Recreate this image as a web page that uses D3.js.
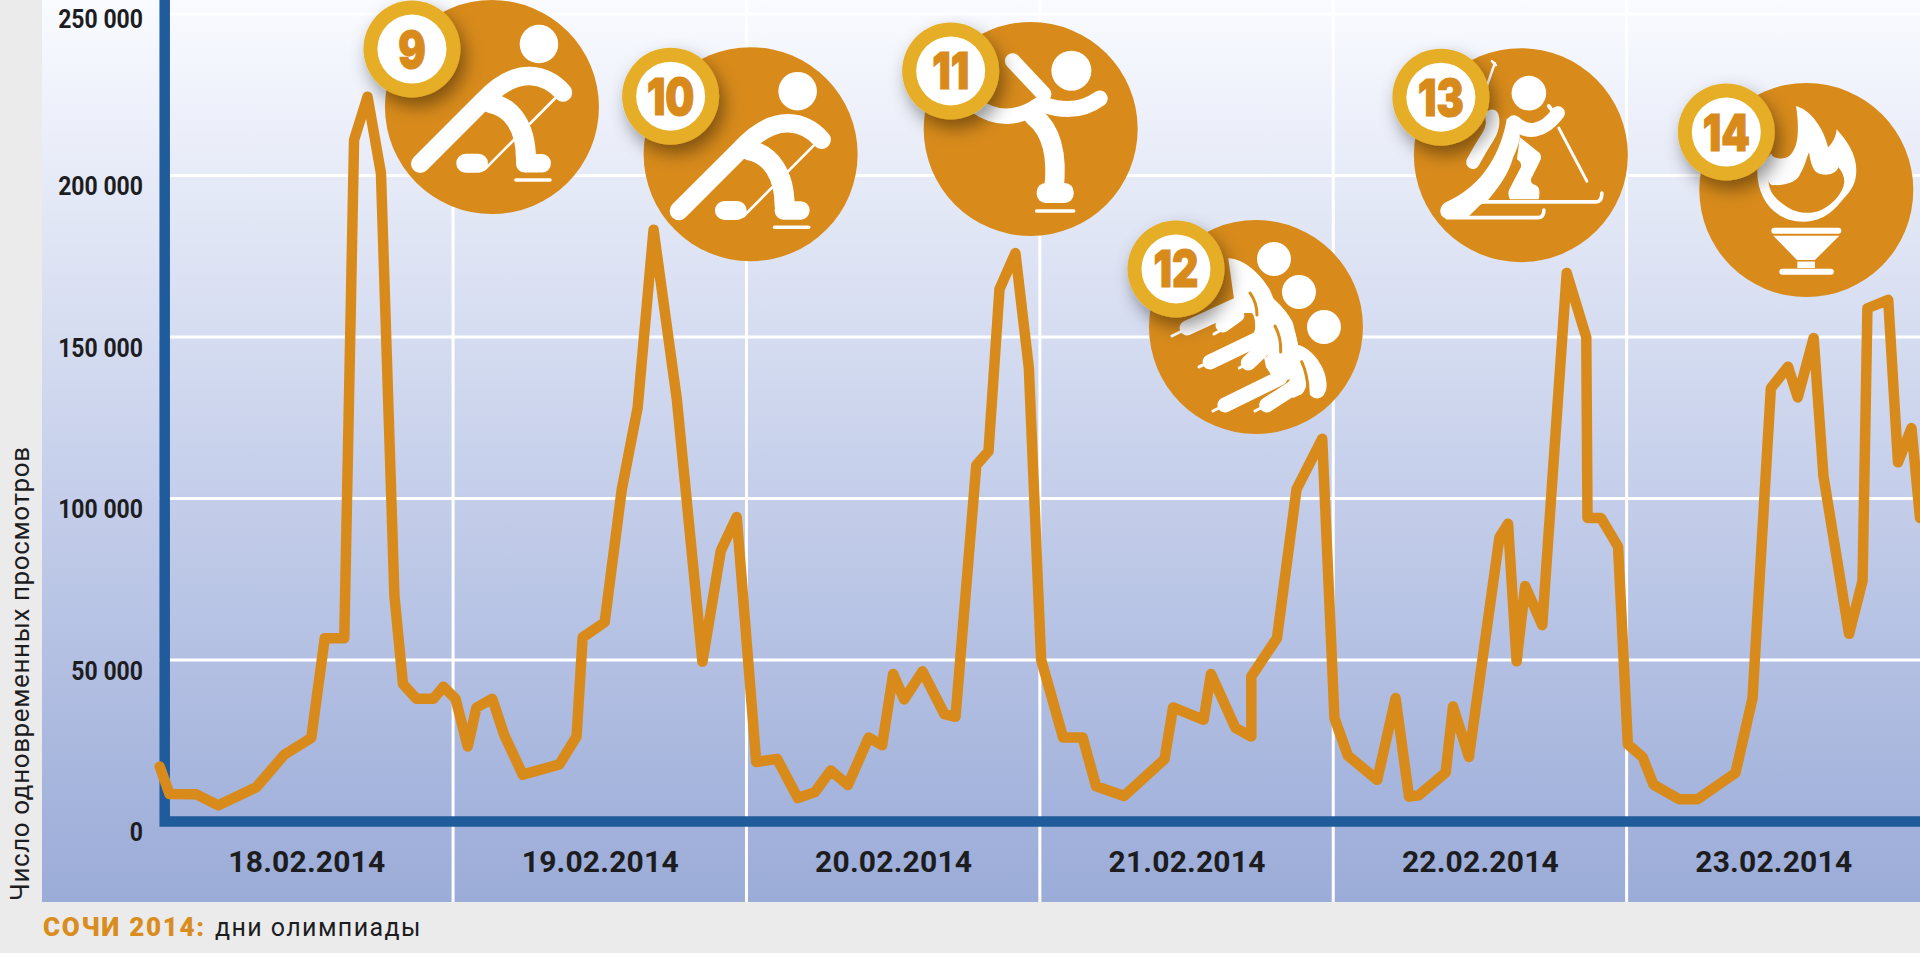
<!DOCTYPE html>
<html lang="ru">
<head>
<meta charset="utf-8">
<title>Сочи 2014: дни олимпиады</title>
<script src="https://cdn.jsdelivr.net/npm/d3@7/dist/d3.min.js"></script>
<style>
  html, body { margin: 0; padding: 0; background: #ebebeb; overflow: hidden; }
  svg { display: block; font-family: Roboto, "Noto Sans", sans-serif; }
</style>
</head>
<body>
<svg id="chart" width="1920" height="953"></svg>
<script>
// Hours since 00:00 on 18.02.2014
const hours = [0,0.8,3,4.8,7.9,10.2,12.4,13.5,15.1,15.9,17,18.1,19.2,19.9,21,22.4,23.2,24.2,25.2,25.9,27.2,28.2,29.7,32.7,34.1,34.6,36.4,37.8,39.1,40.4,42.3,44.4,45.9,47.2,48.8,50.5,52.2,53.6,54.9,56.3,58,59.1,60,60.9,62.4,64.2,65.1,66.8,67.8,68.7,70,71.1,72.1,73.9,75.5,76.6,78.9,82.2,82.9,85.4,86,88,89.3,89.3,91.4,93,95.1,96.1,97.2,99.6,101.1,102.2,103,105.2,105.8,107.1,109.6,110.3,111,111.7,113.1,115.1,116.7,116.8,117.9,119.3,120.1,121.3,122.2,124.3,125.8,128.9,130.3,131.8,133.2,134,135.3,136.1,138.2,139.3,139.7,141.4,142.2,143.3,144];
// Concurrent viewers at each of those hours
const viewers = [17000,8550,8400,5000,10600,20700,25900,56700,56700,211000,224400,200700,69900,42600,38000,38000,41700,38000,23200,35200,38000,26600,14500,17700,26300,57000,61700,102800,128200,183200,130800,49500,83800,94300,18400,19400,7300,9100,15800,11300,26000,23600,45700,37800,46500,33200,32400,110300,114600,164800,176000,140400,50200,26000,26000,10900,7900,19300,35300,31500,45700,29000,26300,44900,56800,102900,118500,32000,20400,12900,38200,7700,8100,15200,35600,20000,88000,92200,49600,72900,60800,169800,149900,94000,94000,85100,23900,20000,11400,6900,6900,15000,38100,134100,140800,131300,149700,107000,58100,74500,158900,161500,111200,121800,94000];

const yTicks = [0, 50000, 100000, 150000, 200000, 250000];
const dayStarts = [0, 24, 48, 72, 96, 120, 144];
const dayLabels = ["18.02.2014","19.02.2014","20.02.2014","21.02.2014","22.02.2014","23.02.2014"];
const yTitle = "Число одновременных просмотров";
const footerLead = "СОЧИ 2014:";
const footerRest = "дни олимпиады";

// Olympic day number and where its medallion sits on the chart's scales
const badgeDays = [9, 10, 11, 12, 13, 14];
const badgeHours = [27.18, 48.34, 71.25, 89.68, 111.35, 134.7];
const badgeLevels = [221200, 206600, 214400, 153100, 206300, 195500];
const badgeIcons = ["hockey", "hockey", "skater", "group", "ski", "flame"];

const svg = d3.select("#chart");
const plot = { left: 159.7, right: 1920, top: 14, zero: 821.5, panelLeft: 42, panelBottom: 902 };

const x = d3.scaleLinear().domain([0, 144]).range([plot.left, plot.right]);
const y = d3.scaleLinear().domain([0, 250000]).range([plot.zero, plot.top]);

const defs = svg.append("defs");
const bg = defs.append("linearGradient").attr("id", "panel").attr("x1", 0).attr("x2", 0).attr("y1", 0).attr("y2", 1);
[[0, "#f9fbff"], [0.18, "#e8ecf8"], [0.5, "#c9d2ec"], [0.82, "#abb9df"], [1, "#9bacd8"]]
  .forEach(([o, c]) => bg.append("stop").attr("offset", o).attr("stop-color", c));
const shadow = defs.append("filter").attr("id", "badgeShadow")
  .attr("x", "-50%").attr("y", "-50%").attr("width", "200%").attr("height", "200%");
shadow.append("feDropShadow").attr("dx", 5).attr("dy", 9).attr("stdDeviation", 9)
  .attr("flood-color", "#000").attr("flood-opacity", 0.42);

// Background panel
svg.append("rect").attr("x", plot.panelLeft).attr("y", 0)
  .attr("width", plot.right - plot.panelLeft).attr("height", plot.panelBottom)
  .attr("fill", "url(#panel)");

// White grid
svg.append("g").selectAll("line").data(yTicks.filter(d => d > 0)).join("line")
  .attr("x1", plot.left).attr("x2", plot.right)
  .attr("y1", d => y(d)).attr("y2", d => y(d))
  .attr("stroke", "#fff").attr("stroke-width", 3);
svg.append("g").selectAll("line").data(dayStarts.slice(1, -1)).join("line")
  .attr("x1", d => x(d)).attr("x2", d => x(d))
  .attr("y1", 0).attr("y2", plot.panelBottom)
  .attr("stroke", "#fff").attr("stroke-width", 3);

// Heavy blue axes
const axisColor = "#205b9b";
svg.append("path")
  .attr("d", d3.line()([[x(0) + 5, 0], [x(0) + 5, y(0)], [plot.right, y(0)]]))
  .attr("fill", "none").attr("stroke", axisColor).attr("stroke-width", 10.5);

// Value axis labels
const groupThousands = d => d === 0 ? "0" : d3.format(",")(d).replace(/,/g, " ");
const yAxis = svg.append("g").attr("transform", `translate(143,0)`)
  .call(d3.axisLeft(y).tickValues(yTicks).tickFormat(groupThousands).tickSize(0).tickPadding(0));
yAxis.select(".domain").remove();
yAxis.selectAll("text")
  .attr("x", 0).attr("dy", null)
  .attr("transform", d => `translate(0,${d === 250000 ? 13 : 19}) scale(0.92,1)`)
  .attr("font-family", "Roboto, sans-serif").attr("font-size", 25).attr("font-weight", 700)
  .attr("fill", "#1d1d1f").attr("text-anchor", "end");

// Day labels, centred on each day
const dayAxis = svg.append("g").attr("transform", `translate(0,${y(0)})`)
  .call(d3.axisBottom(x).tickValues(dayStarts.slice(0, -1).map(d => d + 12))
    .tickFormat((d, i) => dayLabels[i]).tickSize(0));
dayAxis.select(".domain").remove();
dayAxis.selectAll("text")
  .attr("y", 50).attr("dy", null).attr("dx", 0)
  .attr("font-family", "Roboto, sans-serif").attr("font-size", 30).attr("font-weight", 700)
  .attr("letter-spacing", 0.2).attr("fill", "#1d1d1f").attr("text-anchor", "middle");

// Viewers line
const line = d3.line().x(d => x(d[0])).y(d => y(d[1]));
svg.append("path")
  .attr("d", line(d3.zip(hours, viewers)))
  .attr("fill", "none").attr("stroke", "#d88b1b").attr("stroke-width", 10.5)
  .attr("stroke-linejoin", "round").attr("stroke-linecap", "round");

// Titles
svg.append("text")
  .attr("transform", "translate(29,901) rotate(-90)")
  .attr("font-size", 26).attr("letter-spacing", 0.6).attr("fill", "#1d1d1f").text(yTitle);
svg.append("text").attr("x", 43).attr("y", 936)
  .attr("font-size", 26).attr("font-weight", 900).attr("letter-spacing", 1.7)
  .attr("fill", "#d98d1e").text(footerLead);
svg.append("text").attr("x", 215).attr("y", 936)
  .attr("font-size", 25).attr("letter-spacing", 1.4)
  .attr("fill", "#1d1d1f").text(footerRest);

// Sport pictograms, drawn around the medallion centre
const ring = (cx, cy, r) => ({ circle: [cx, cy, r] });
const stroke = (d, w) => ({ stroke: d, w });
const fill = (d, cut) => ({ fill: d, cut });
const notch = (d, w) => ({ notch: d, w });
const rounded = (x0, y0, x1, y1, r) =>
  `M${x0 + r},${y0}H${x1 - r}A${r},${r} 0 0 1 ${x1},${y0 + r}V${y1 - r}A${r},${r} 0 0 1 ${x1 - r},${y1}H${x0 + r}A${r},${r} 0 0 1 ${x0},${y1 - r}V${y0 + r}A${r},${r} 0 0 1 ${x0 + r},${y0}Z`;

const pictograms = {
  hockey: [
    ring(47, -63, 19.3),
    stroke("M62.7,-8.3L-7.3,62.3", 2.6),
    fill(rounded(-35.7, 46.7, -4, 65.7, 9.5)),
    notch("M16,28L-2,47", 5),
    stroke("M-71.7,56.7L-9,-6C8,-24 24,-31.5 38,-31C50,-30.5 62,-25 71,-14.5", 18.5),
    stroke("M-2,-4C20,0 34,20 34,52", 20),
    fill(rounded(24, 47, 59, 65.5, 9)),
    stroke("M24,73H58", 3.6)
  ],
  skater: [
    ring(40.7, -58.3, 20),
    stroke("M-18,-68L13,-35", 15.5),
    stroke("M14,-24C32,-18 52,-18 69,-30.5", 16),
    stroke("M8,-24C-12,-10 -34,-8 -56,-24", 15.5),
    stroke("M3,-13C22,2 27,30 23,62", 19.5),
    fill(rounded(6, 54, 43, 74, 9)),
    stroke("M6,82H43", 3.6)
  ],
  ski: [
    ring(8, -62, 17.3),
    stroke("M-25,-90L-29,-94M-26,-92L-32,-75L-47,-30", 2.5),
    stroke("M-29,-39C-26,-28 -32,-20 -37,-12C-42,-4 -44,0 -48,7", 13.5),
    fill("M-14,-37C-19,-6 -36,30 -75,47C-83,51 -82,63 -74,63L-54,63L-41,50L-33,45C-22,32 -12,18 -8,3C-6,-2 -2,-10 -1,-18L-2,-30Z"),
    fill("M-1,-18L19,-2C21,2 20,4 19,6L10,24C10,28 12,29 15,30C19,32 19,36 18,44L-11,44C-13,40 -13,36 -11,33L0,12C1,8 -1,6 -4,4Z"),
    stroke("M-7,-33C6,-21 22,-22 37,-42", 14),
    stroke("M28,-49L38,-36", 4),
    stroke("M38,-27L66,26", 3),
    stroke("M-43,46.7H75C79,46.7 81,44 81,38", 3.6),
    stroke("M-74,62.5H17C21,62.5 23,60 23,55", 3.6)
  ],
  group: [
    ring(18, -68, 17), ring(43, -35, 17), ring(68, 0, 17),
    fill("M-27.7,-68.7C-12,-68 4,-54 14,-37L17.3,-28.7C26,-20 32,-14 37,-4L42,18C54,20 72,40 70.5,60C70,72 54,72 53.3,61C53,53 52,45 49,40C52,50 52,60 46,67L37,71L28,60C36,52 37,46 34,44L22,58L10,40L8,30C14,32 14,18 8,10L-6,22L-14,24C-2,10 4,-2 -4,-14L-20,-14Z"),
    stroke("M-12,-42C6,-34 12,-12 10,6", 22),
    stroke("M20,-8C30,4 34,24 30,42", 22),
    stroke("M44,30C54,38 61,50 61,63", 17),
    stroke("M-84,9L-70,2", 3), stroke("M-69,1L-19,-22", 15),
    stroke("M-42,7L-33,2", 3), stroke("M-33,-2L-19,-12", 15),
    stroke("M-57,40L-46,35", 3), stroke("M-46,35L4,11", 15),
    stroke("M-16.7,41L-7.7,36", 3), stroke("M-7.7,36L9,20", 15),
    stroke("M-43,84L-31,78", 3), stroke("M-31,78L24,51", 15),
    stroke("M-1,84L10.7,78", 3), stroke("M10.7,78L37,61", 15),
    notch("M-6,-34C-1,-27 1,-20 1,-12", 3),
    notch("M19,-1C24,8 25,18 24.7,25", 3),
    notch("M45.7,34.7C50,44 52,55 52.3,66", 3)
  ],
  flame: [
    fill("M-49,-20C-50,5 -34,32 -2.4,31.7C18,31 28,20 36,10C46,0 50,-8 50,-20C50,-36 40,-50 30.3,-60.7C30,-54 26,-46 21.7,-42.7C18,-60 5,-80 -10.3,-84C-8,-70 -8,-58 -9.3,-50C-11,-40 -16,-32 -23,-31.7C-29,-31 -35,-33 -35,-36.7ZM-38,-11C-38,-7 -35,-4 -32,-5C-20,-4 -8,-9 -5.9,-16.7C-2,-22 0,-32 2.8,-37.7C4,-28 7,-18 12,-16.7C18,-14 30,-15 32,-23C38,-16 39,-9 37,-3.3C34,6 24,16 14.8,20C8,23 2,23 -2.4,22.7C-12,23 -26,14 -33,5C-36,1 -38,-5 -38,-11Z", true),
    stroke("M-32,40.7H32", 6),
    fill("M-33,45.7H33L8.6,70H-9.3Z"),
    fill("M-9,71.5H8.6V78H-9Z"),
    stroke("M-24,81.7H24.5", 6)
  ]
};

const medals = svg.append("g").selectAll("g")
  .data(badgeDays.map((day, i) => ({ day, hour: badgeHours[i], level: badgeLevels[i], icon: badgeIcons[i] })))
  .join("g")
  .attr("transform", d => `translate(${x(d.hour)},${y(d.level)})`);

medals.append("circle").attr("r", 107).attr("fill", "#d88b1b");

medals.each(function (d) {
  const g = d3.select(this);
  pictograms[d.icon].forEach(p => {
    if (p.circle) g.append("circle").attr("cx", p.circle[0]).attr("cy", p.circle[1]).attr("r", p.circle[2]).attr("fill", "#fff");
    if (p.stroke) g.append("path").attr("d", p.stroke).attr("fill", "none").attr("stroke", "#fff")
      .attr("stroke-width", p.w).attr("stroke-linecap", "round").attr("stroke-linejoin", "round");
    if (p.fill) g.append("path").attr("d", p.fill).attr("fill", "#fff").attr("fill-rule", p.cut ? "evenodd" : "nonzero");
    if (p.notch) g.append("path").attr("d", p.notch).attr("fill", "none").attr("stroke", "#d88b1b")
      .attr("stroke-width", p.w).attr("stroke-linecap", "round");
  });
});

const badge = medals.append("g").attr("transform", "translate(-80,-58)");
badge.append("circle").attr("r", 48.5).attr("fill", "#e5ae28").attr("filter", "url(#badgeShadow)");
badge.append("circle").attr("r", 34.5).attr("fill", "#fff");
badge.append("text")
  .attr("transform", "translate(0,18.5) scale(0.8,1)")
  .attr("text-anchor", "middle").attr("font-family", "Inter, Roboto, sans-serif")
  .attr("font-size", 51).attr("font-weight", 900)
  .attr("stroke", "#d88b1b").attr("stroke-width", 1.2)
  .attr("fill", "#d88b1b").text(d => d.day);
</script>
</body>
</html>
